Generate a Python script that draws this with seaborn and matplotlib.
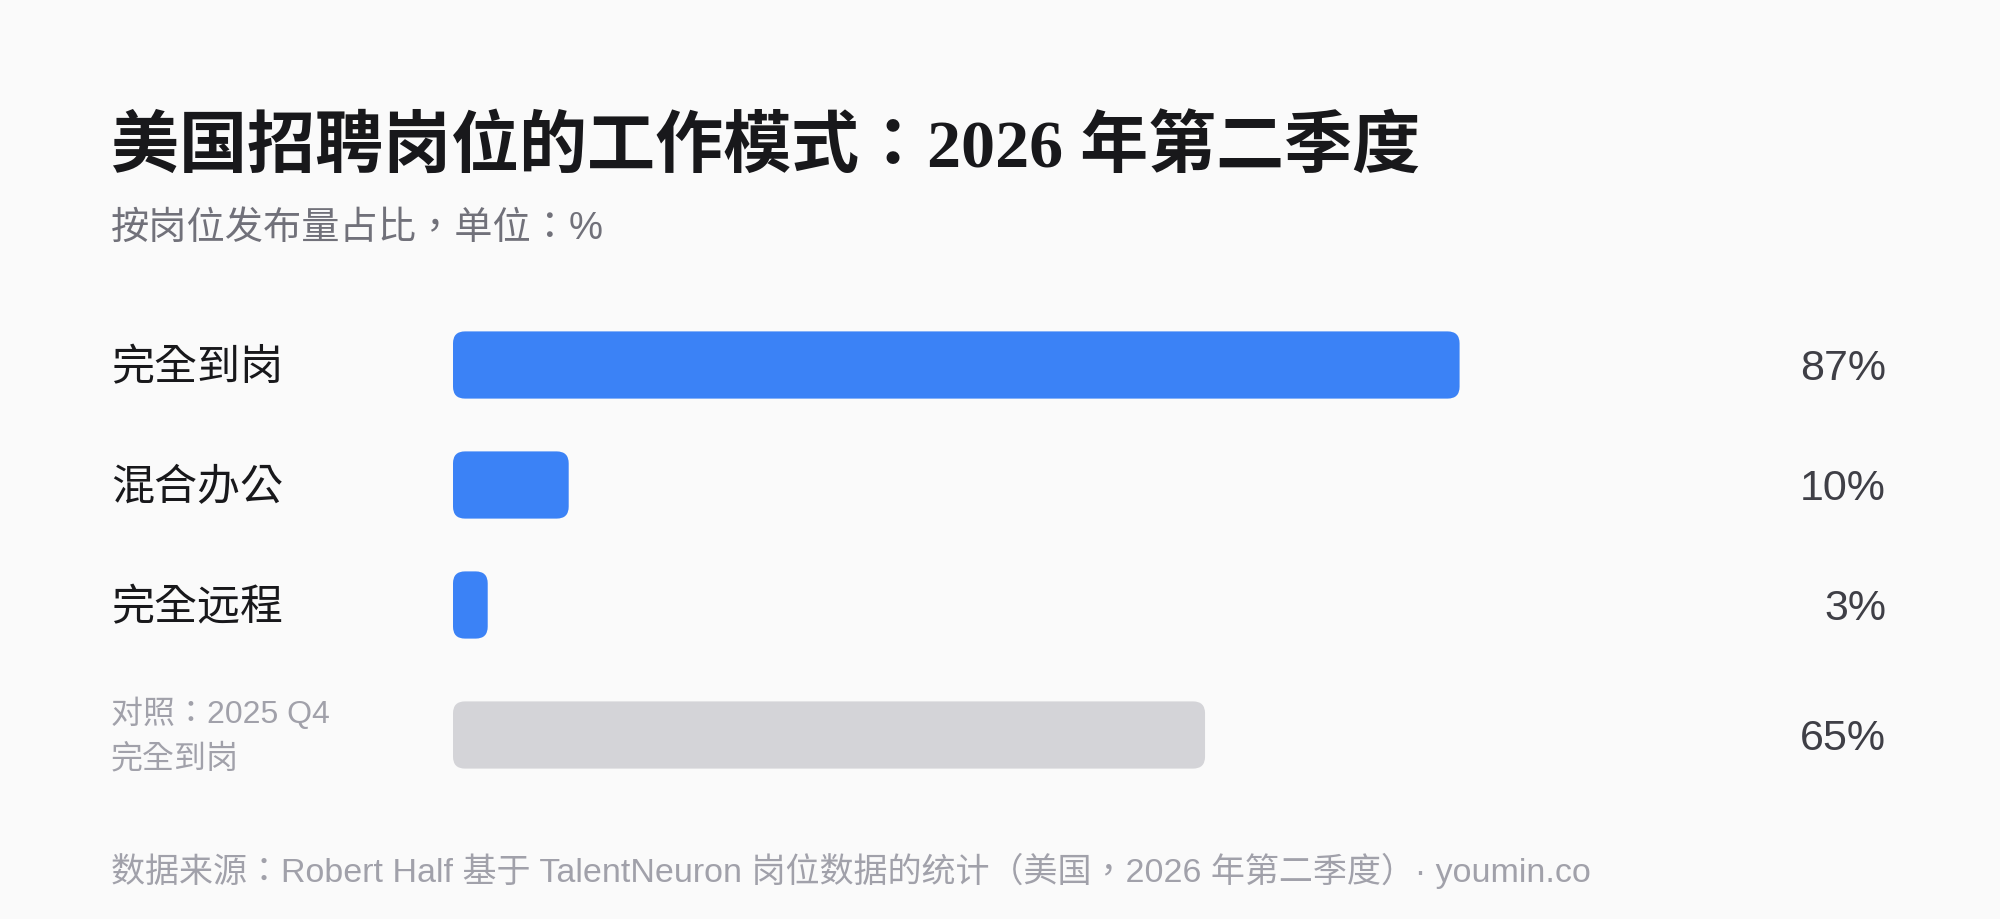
import matplotlib
matplotlib.use("Agg")
import matplotlib.pyplot as plt
import matplotlib.transforms as mtransforms
from matplotlib.patches import FancyBboxPatch
import pandas as pd
import seaborn as sns

# data
modes = ["完全到岗", "混合办公", "完全远程"]
shares = [87, 10, 3]
compare_label = "对照：2025 Q4\n完全到岗"
compare_share = [65]

title = "美国招聘岗位的工作模式：2026 年第二季度"
subtitle = "按岗位发布量占比，单位：%"
source = "数据来源：Robert Half 基于 TalentNeuron 岗位数据的统计（美国，2026 年第二季度）· youmin.co"

sns.set_theme(style="white")
plt.rcParams["font.family"] = ["Liberation Sans", "Noto Sans CJK TC", "DejaVu Sans"]

BG = "#fafafa"
BLUE = "#3b82f6"
GREY = "#d4d4d8"

W, H = 2000, 920
fig = plt.figure(figsize=(20, 9.2), dpi=100, facecolor=BG)


def frac(x, y):
    # pixel (from top-left) -> figure fraction
    return x / W, 1 - y / H


# main bars: left 453px, 100% at 1610px, rows 120px apart
ax = fig.add_axes([453 / W, 1 - 666 / H, 1157 / W, 360 / H])
ax2 = fig.add_axes([453 / W, 1 - 796 / H, 1157 / W, 120 / H])

df = pd.DataFrame({"mode": modes, "share": shares})
sns.barplot(data=df, x="share", y="mode", orient="h", color=BLUE,
            saturation=1, width=0.56, ax=ax)
df2 = pd.DataFrame({"mode": [compare_label], "share": compare_share})
sns.barplot(data=df2, x="share", y="mode", orient="h", color=GREY,
            saturation=1, width=0.56, ax=ax2)

for a, n in [(ax, len(modes)), (ax2, 1)]:
    a.set_xlim(0, 100)
    a.set_ylim(n - 0.5, -0.5)
    a.set_facecolor("none")
    a.axis("off")
    # swap plain rectangles for rounded ones
    pos = a.get_position()
    x_per_px = 100 / (pos.width * W)
    y_per_px = n / (pos.height * H)
    radius = 12 * x_per_px
    for p in list(a.patches):
        x0, y0, w, h = p.get_x(), p.get_y(), p.get_width(), p.get_height()
        fc = p.get_facecolor()
        p.remove()
        a.add_patch(FancyBboxPatch((x0, y0), w, h,
                                   boxstyle=f"round,pad=0,rounding_size={min(radius, w / 2)}",
                                   mutation_aspect=y_per_px / x_per_px,
                                   facecolor=fc, edgecolor="none"))

# row labels and values
tr = mtransforms.offset_copy(
    mtransforms.blended_transform_factory(fig.transFigure, ax.transData),
    fig=fig, y=-3, units="dots")
for i, (m, v) in enumerate(zip(modes, shares)):
    ax.text(111 / W, i, m, transform=tr, ha="left", va="center",
            fontsize=31, color="#18181b")
    ax.text(1886 / W, i, f"{v}%", transform=tr, ha="right", va="center",
            fontsize=31, color="#3f3f46")

tr2 = mtransforms.blended_transform_factory(fig.transFigure, ax2.transData)
ax2.text(111 / W, 0, compare_label, transform=tr2, ha="left", va="center",
         fontsize=23, color="#a1a1aa", linespacing=1.6)
ax2.text(1886 / W, 0, f"{compare_share[0]}%",
         transform=mtransforms.offset_copy(tr2, fig=fig, y=-3, units="dots"),
         ha="right", va="center", fontsize=31, color="#3f3f46")

# header and footer
fig.text(*frac(111, 167), title, ha="left", va="baseline", fontsize=49,
         fontweight="bold", color="#18181b",
         family=["Liberation Serif", "Noto Sans CJK TC", "DejaVu Sans"])
fig.text(*frac(111, 239), subtitle, ha="left", va="baseline", fontsize=27.5,
         color="#71717a")
fig.text(*frac(111, 882), source, ha="left", va="baseline", fontsize=24.5,
         color="#a1a1aa")

fig.savefig("out.png", dpi=100, facecolor=BG)
